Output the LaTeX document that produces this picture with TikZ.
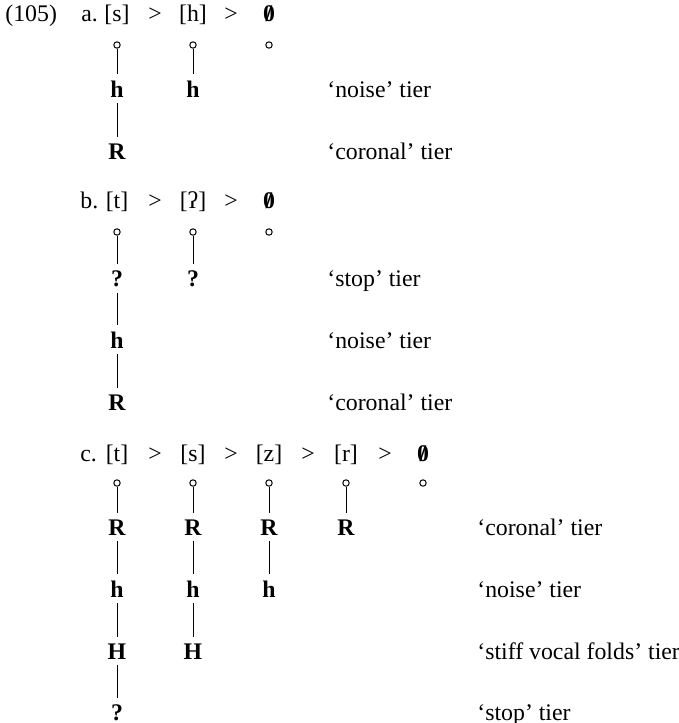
\documentclass[tikz,border=0pt]{standalone}
\usepackage{fontspec}
\setmainfont{Liberation Serif}
\usetikzlibrary{positioning}
\tikzset{
  txt/.style={font=\fontsize{11.9}{14}\selectfont},
  seg/.style={txt, anchor=base, inner sep=1pt},
  num/.style={txt, anchor=base west, inner sep=0pt},
  slot/.style={circle, draw, line width=0.5pt, inner sep=0pt,
               minimum size=3.2pt},
  feat/.style={txt, anchor=base, inner sep=3pt, font=\fontsize{11.9}{14}\selectfont\bfseries},
  tierlbl/.style={txt, anchor=base west, inner sep=0pt},
  assoc/.style={line width=0.5pt},
}
\newcommand{\nullseg}{\ooalign{\textbf{0}\cr\hidewidth\textbf{/}\hidewidth\cr}}

\begin{document}
\begin{tikzpicture}[x=0.5pt, y=-0.5pt]
  \useasboundingbox (0,0) rectangle (679,723);

  % ---- (105a) ----
  \node[num] (ex)   at (5,21)   {(105)};
  \node[num] (ia)   at (81,21)  {a.};
  \node[seg] (sa1)  at (117,21) {[s]};
  \node[seg] (ga1)  at (155,21) {>};
  \node[seg] (sa2)  at (193,21) {[h]};
  \node[seg] (ga2)  at (231,21) {>};
  \node[seg] (sa3)  at (269,21) {\nullseg};
  \node[slot] (ca1) at (117,45) {};
  \node[slot] (ca2) at (193,45) {};
  \node[slot] (ca3) at (269,45) {};
  \node[feat] (a1h) at (117,97)  {h};
  \node[feat] (a1R) at (117,159) {R};
  \node[feat] (a2h) at (193,97)  {h};
  \node[tierlbl] (la1) at (327,97)  {`noise' tier};
  \node[tierlbl] (la2) at (327,159) {`coronal' tier};
  \draw[assoc] (ca1) -- (a1h) (a1h) -- (a1R);
  \draw[assoc] (ca2) -- (a2h);

  % ---- (105b) ----
  \node[num] (ib)   at (80,208)  {b.};
  \node[seg] (sb1)  at (117,208) {[t]};
  \node[seg] (gb1)  at (155,208) {>};
  \node[seg] (sb2)  at (193,208) {[ʔ]};
  \node[seg] (gb2)  at (231,208) {>};
  \node[seg] (sb3)  at (269,208) {\nullseg};
  \node[slot] (cb1) at (117,232) {};
  \node[slot] (cb2) at (193,232) {};
  \node[slot] (cb3) at (269,232) {};
  \node[feat] (b1q) at (117,286) {?};
  \node[feat] (b1h) at (117,348) {h};
  \node[feat] (b1R) at (117,410) {R};
  \node[feat] (b2q) at (193,286) {?};
  \node[tierlbl] (lb1) at (327,286) {`stop' tier};
  \node[tierlbl] (lb2) at (327,348) {`noise' tier};
  \node[tierlbl] (lb3) at (327,410) {`coronal' tier};
  \draw[assoc] (cb1) -- (b1q) (b1q) -- (b1h) (b1h) -- (b1R);
  \draw[assoc] (cb2) -- (b2q);

  % ---- (105c) ----
  \node[num] (ic)   at (80,461)  {c.};
  \node[seg] (sc1)  at (117,461) {[t]};
  \node[seg] (gc1)  at (155,461) {>};
  \node[seg] (sc2)  at (193,461) {[s]};
  \node[seg] (gc2)  at (231,461) {>};
  \node[seg] (sc3)  at (269,461) {[z]};
  \node[seg] (gc3)  at (308,461) {>};
  \node[seg] (sc4)  at (346,461) {[r]};
  \node[seg] (gc4)  at (385,461) {>};
  \node[seg] (sc5)  at (423,461) {\nullseg};
  \node[slot] (cc1) at (117,483) {};
  \node[slot] (cc2) at (193,483) {};
  \node[slot] (cc3) at (269,483) {};
  \node[slot] (cc4) at (346,483) {};
  \node[slot] (cc5) at (423,483) {};
  \node[feat] (c1R) at (117,535) {R};
  \node[feat] (c1h) at (117,597) {h};
  \node[feat] (c1H) at (117,659) {H};
  \node[feat] (c1q) at (117,720) {?};
  \node[feat] (c2R) at (193,535) {R};
  \node[feat] (c2h) at (193,597) {h};
  \node[feat] (c2H) at (193,659) {H};
  \node[feat] (c3R) at (269,535) {R};
  \node[feat] (c3h) at (269,597) {h};
  \node[feat] (c4R) at (346,535) {R};
  \node[tierlbl] (lc1) at (477,535) {`coronal' tier};
  \node[tierlbl] (lc2) at (477,597) {`noise' tier};
  \node[tierlbl] (lc3) at (477,659) {`stiff vocal folds' tier};
  \node[tierlbl] (lc4) at (477,720) {`stop' tier};
  \draw[assoc] (cc1) -- (c1R) (c1R) -- (c1h) (c1h) -- (c1H) (c1H) -- (c1q);
  \draw[assoc] (cc2) -- (c2R) (c2R) -- (c2h) (c2h) -- (c2H);
  \draw[assoc] (cc3) -- (c3R) (c3R) -- (c3h);
  \draw[assoc] (cc4) -- (c4R);
\end{tikzpicture}
\end{document}
